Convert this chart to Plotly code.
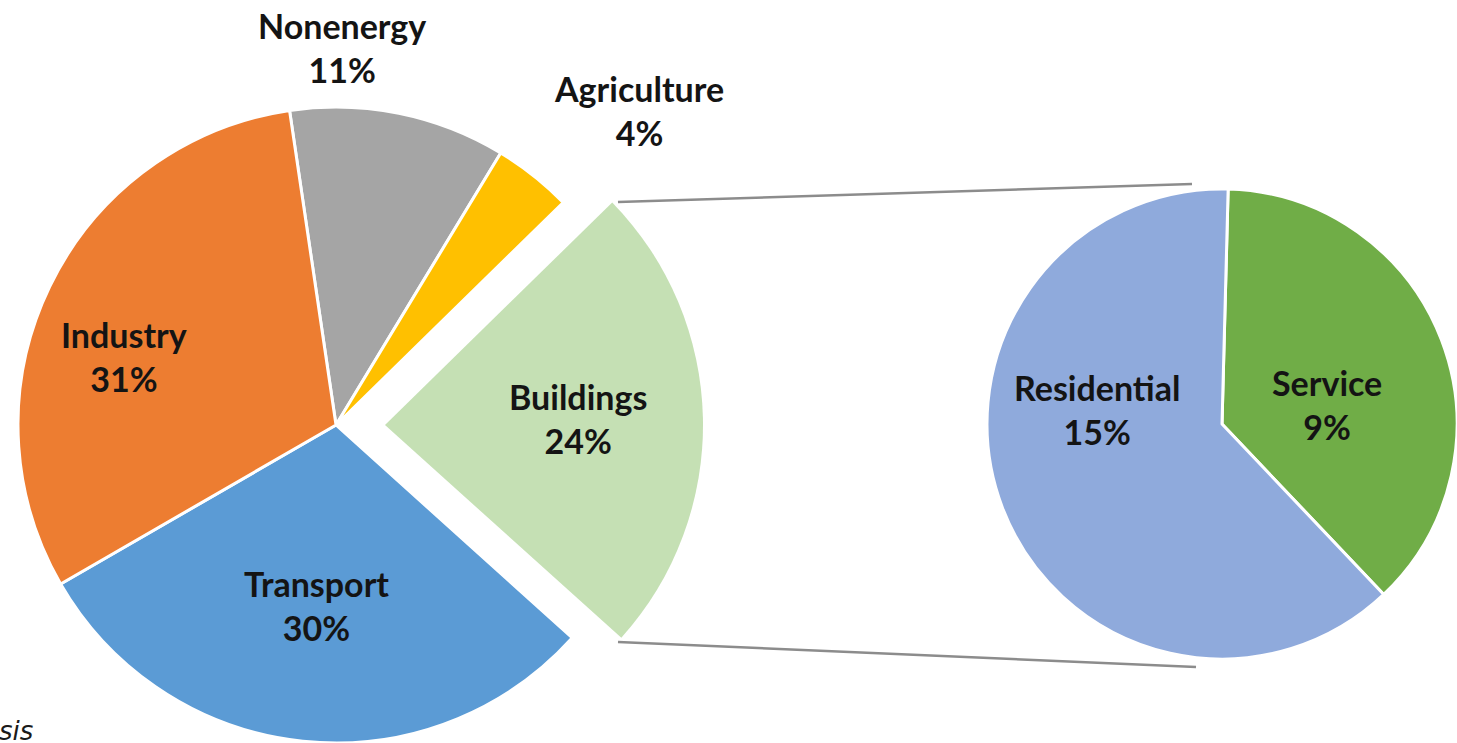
import plotly.graph_objects as go

# Final energy consumption by sector, with the buildings share split out
sectors = ["Nonenergy", "Agriculture", "Buildings", "Transport", "Industry"]
sector_share = [11, 4, 24, 30, 31]
sector_colors = ["#A5A5A5", "#FFC000", "#C5E0B4", "#5B9BD5", "#ED7D31"]

building_uses = ["Service", "Residential"]
building_share = [9, 15]
building_colors = ["#70AD47", "#8FAADC"]

EXPLODED = "Buildings"
SOURCE_NOTE = "analysis"

# ---- layout geometry (pixels) ----
W, H = 1457, 743
MAIN_C, MAIN_R = (336, 425), 318
PULL_DX, PULL_DY = 49, 0
SUB_C, SUB_R = (1222, 424), 235
ROTATION_MAIN = -8.4
ROTATION_SUB = 1.5

label_pos = {
    "Nonenergy": (342, 47),
    "Agriculture": (639, 111),
    "Industry": (124, 356),
    "Buildings": (578, 418),
    "Transport": (316, 605),
    "Residential": (1097, 409),
    "Service": (1327, 404),
}


def px_x(x):
    return x / W


def px_y(y):
    return 1 - y / H


def domain(center, r):
    cx, cy = center
    x0, x1 = max(0.0, (cx - r) / W), min(1.0, (cx + r) / W)
    y0, y1 = max(0.0, (H - (cy + r)) / H), min(1.0, (H - (cy - r)) / H)
    return dict(x=[x0, x1], y=[y0, y1])


CLEAR = "rgba(0,0,0,0)"
idx_b = sectors.index(EXPLODED)

# main pie: every sector except the exploded one
main_colors = [CLEAR if s == EXPLODED else c for s, c in zip(sectors, sector_colors)]
main_lines = [0 if s == EXPLODED else 3 for s in sectors]

# exploded slice: same values, only the buildings sector painted
pulled_colors = [c if s == EXPLODED else CLEAR for s, c in zip(sectors, sector_colors)]

fig = go.Figure()

fig.add_trace(go.Pie(
    labels=sectors, values=sector_share, sort=False, direction="clockwise",
    rotation=ROTATION_MAIN, textinfo="none", hoverinfo="label+percent",
    marker=dict(colors=main_colors, line=dict(color="white", width=main_lines)),
    domain=domain(MAIN_C, MAIN_R), showlegend=False,
))

fig.add_trace(go.Pie(
    labels=sectors, values=sector_share, sort=False, direction="clockwise",
    rotation=ROTATION_MAIN, textinfo="none", hoverinfo="skip",
    marker=dict(colors=pulled_colors, line=dict(width=0)),
    domain=domain((MAIN_C[0] + PULL_DX, MAIN_C[1] + PULL_DY), MAIN_R),
    showlegend=False,
))

fig.add_trace(go.Pie(
    labels=building_uses, values=building_share, sort=False,
    direction="clockwise", rotation=ROTATION_SUB, textinfo="none",
    hoverinfo="label+value",
    marker=dict(colors=building_colors, line=dict(color="white", width=3)),
    domain=domain(SUB_C, SUB_R), showlegend=False,
))

# connector lines from the exploded slice to the breakdown pie
connectors = [((618, 202), (1192, 184)), ((618, 642), (1196, 667))]
for (x0, y0), (x1, y1) in connectors:
    fig.add_shape(type="line", xref="paper", yref="paper",
                  x0=px_x(x0), y0=px_y(y0), x1=px_x(x1), y1=px_y(y1),
                  line=dict(color="#8C8C8C", width=2.5))

label_font = dict(family="Lato, Open Sans, sans-serif", size=34,
                  color="#141414", weight="bold")

annotations = []
for name, share in list(zip(sectors, sector_share)) + list(zip(building_uses, building_share)):
    x, y = label_pos[name]
    annotations.append(dict(
        text=f"{name}<br>{share}%", x=px_x(x), y=px_y(y),
        xref="paper", yref="paper", xanchor="center", yanchor="middle",
        showarrow=False, font=label_font, align="center",
    ))

annotations.append(dict(
    text=f"<i>{SOURCE_NOTE}</i>", x=px_x(35), y=px_y(731),
    xref="paper", yref="paper", xanchor="right", yanchor="middle",
    showarrow=False, font=dict(family="DejaVu Sans", size=26, color="#1a1a1a"),
))

fig.update_layout(
    width=W, height=H, margin=dict(l=0, r=0, t=0, b=0),
    paper_bgcolor="white", plot_bgcolor="white",
    annotations=annotations,
)

fig.write_html("out.html")
